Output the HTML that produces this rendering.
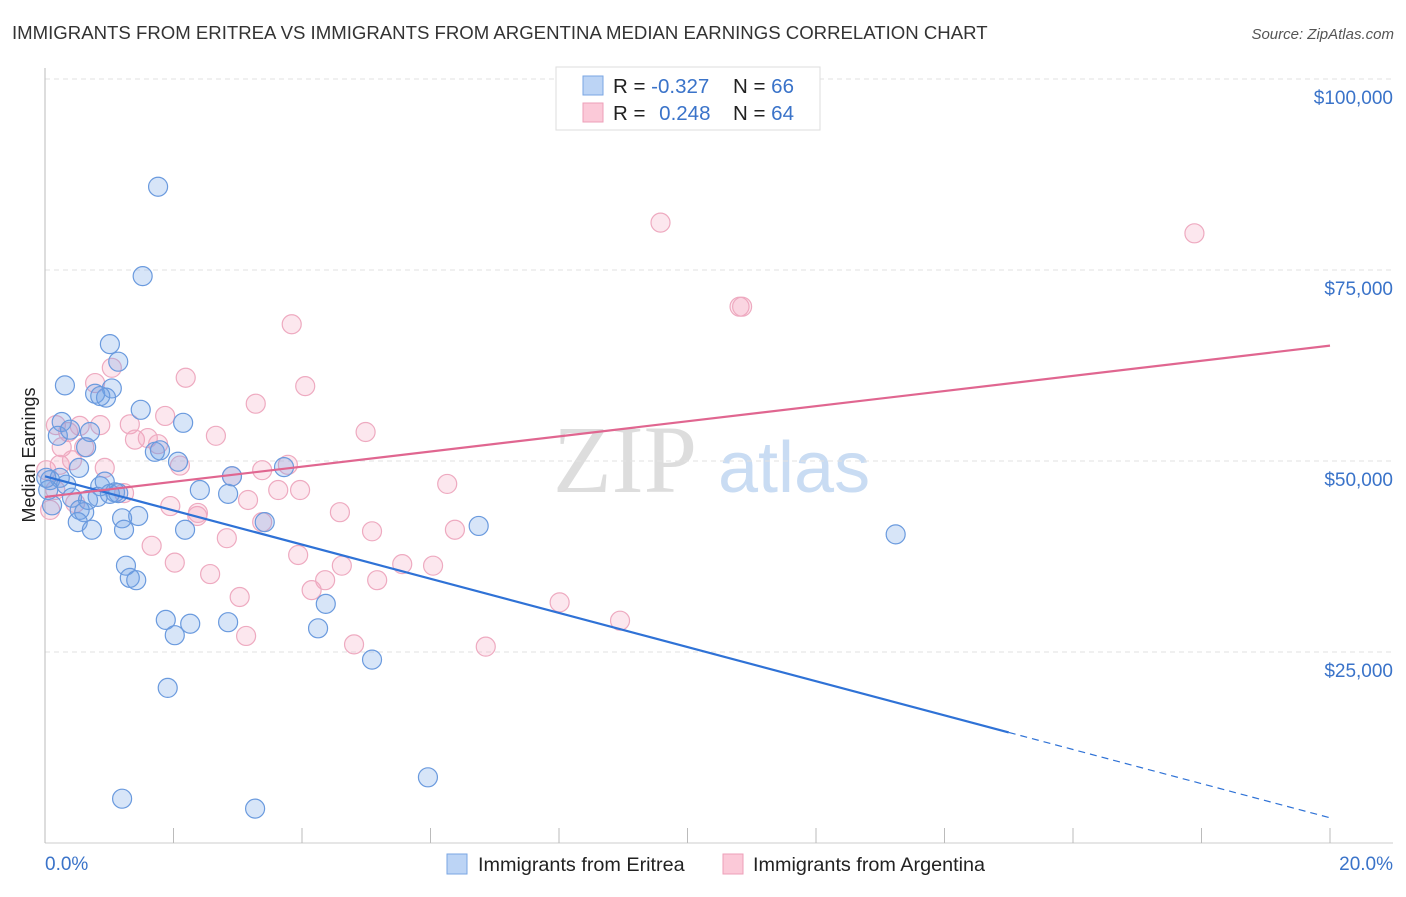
<!DOCTYPE html>
<html><head><meta charset="utf-8">
<style>
body{margin:0;background:#fff;font-family:"Liberation Sans",sans-serif;}
</style></head>
<body>
<svg id="chart" width="1406" height="892" xmlns="http://www.w3.org/2000/svg" font-family="Liberation Sans, sans-serif">
<text x="12" y="39" font-size="18.6" fill="#333">IMMIGRANTS FROM ERITREA VS IMMIGRANTS FROM ARGENTINA MEDIAN EARNINGS CORRELATION CHART</text>
<text x="1394" y="39" font-size="15" fill="#555" font-style="italic" text-anchor="end">Source: ZipAtlas.com</text>
<g>
<text x="553" y="492" font-size="96" fill="#ddd" style="font-family:'Liberation Serif',serif">ZIP</text>
<text x="718" y="492" font-size="72" fill="#c9dcf3">atlas</text>
</g>
<g id="grid"></g>
<g id="axes"></g>
<g id="marks"></g>
<g id="lines"></g>
<text transform="translate(35,455) rotate(-90)" font-size="18" fill="#222" text-anchor="middle">Median Earnings</text>
<g>
<rect x="556" y="67" width="264" height="63" fill="#fff" stroke="#ddd"/>
<rect x="583" y="76" width="20" height="19" fill="#bcd4f5" stroke="#7aa6e3"/>
<rect x="583" y="103" width="20" height="19" fill="#fbc9d8" stroke="#ee9fb8"/>
<text x="613" y="93" font-size="20.5" fill="#222">R = <tspan fill="#3a73c9">-0.327</tspan></text>
<text x="733" y="93" font-size="20.5" fill="#222">N = <tspan fill="#3a73c9">66</tspan></text>
<text x="613" y="120" font-size="20.5" fill="#222">R = <tspan fill="#3a73c9" dx="8">0.248</tspan></text>
<text x="733" y="120" font-size="20.5" fill="#222">N = <tspan fill="#3a73c9">64</tspan></text>
</g>
<g>
<rect x="447" y="854" width="20" height="20" fill="#bcd4f5" stroke="#7aa6e3"/>
<text x="478" y="871" font-size="19.8" fill="#222">Immigrants from Eritrea</text>
<rect x="723" y="854" width="20" height="20" fill="#fbc9d8" stroke="#ee9fb8"/>
<text x="753" y="871" font-size="19.8" fill="#222">Immigrants from Argentina</text>
</g>
</svg>
<script>
const yTicks=[25000,50000,75000,100000];
const yTickLabels=["$25,000","$50,000","$75,000","$100,000"];
const xTickLabels=["0.0%","20.0%"];
const blueX=[1.76,1.52,1.01,1.14,0.31,1.04,0.78,0.95,0.86,1.49,0.26,2.15,0.20,0.39,0.70,0.64,1.71,1.79,2.07,0.53,0.08,0.23,0.33,0.86,0.93,2.41,1.09,2.85,0.42,0.67,0.54,0.61,1.45,0.51,0.73,1.20,1.23,2.18,3.42,2.91,3.72,6.75,13.24,1.26,1.32,1.42,1.88,2.26,2.85,2.02,4.37,4.25,5.09,1.91,5.96,1.20,3.27,0.05,0.11,1.01,0.82,0.02,1.14];
const blueY=[85.9,74.2,65.3,63.0,59.9,59.5,58.8,58.3,58.5,56.7,55.1,55.0,53.3,54.1,53.8,51.8,51.2,51.4,49.9,49.1,47.5,47.8,46.9,46.7,47.3,46.2,45.9,45.7,45.2,44.9,43.6,43.3,42.8,42.0,41.0,42.5,41.0,41.0,42.0,48.0,49.2,41.5,40.4,36.3,34.7,34.4,29.2,28.7,28.9,27.2,31.3,28.1,24.0,20.3,8.6,5.8,4.5,46.2,44.2,45.7,45.3,47.8,45.8];
const pinkX=[8.17,9.58,17.89,10.81,10.85,3.84,4.05,2.19,0.78,1.04,3.28,1.87,1.32,4.99,2.66,0.36,0.54,0.86,0.26,0.61,1.40,1.60,1.76,2.10,0.93,3.78,2.91,3.38,6.26,3.63,3.97,1.23,3.16,1.95,2.37,4.59,2.38,3.38,5.09,6.38,2.83,1.66,3.94,2.02,4.62,4.36,5.17,5.56,6.04,2.57,4.15,3.03,8.01,8.95,3.13,4.81,6.86,0.16,0.08,0.02,0.23,0.42,0.17,0.47];
const pinkY=[94.9,81.2,79.8,70.2,70.2,67.9,59.8,60.9,60.2,62.2,57.5,55.9,54.8,53.8,53.3,53.8,54.6,54.7,51.8,51.8,52.8,53.0,52.2,49.4,49.1,49.5,48.0,48.8,47.0,46.2,46.2,45.8,44.9,44.1,42.8,43.3,43.2,42.0,40.8,41.0,39.9,38.9,37.7,36.7,36.3,34.4,34.4,36.5,36.3,35.2,33.1,32.2,31.5,29.1,27.1,26.0,25.7,46.2,43.6,48.8,49.5,50.1,54.7,44.5];
const blueTrend=[48000,3300];
const blueSolidEnd=15.0;
const pinkTrend=[45300,65100];

(function(){
const NS="http://www.w3.org/2000/svg";
const X0=45,X1=1330,Y0=843,PXK=191/25000;
const xs=v=>X0+(v/20)*(X1-X0);
const ys=v=>Y0-v*PXK;
function mk(tag,attrs,parent){const e=document.createElementNS(NS,tag);for(const k in attrs)e.setAttribute(k,attrs[k]);parent.appendChild(e);return e;}
const grid=document.getElementById('grid'),axes=document.getElementById('axes'),marks=document.getElementById('marks'),lines=document.getElementById('lines');
yTicks.forEach((t,i)=>{
 const l=mk('line',{x1:X0,x2:1393,y1:ys(t),y2:ys(t),stroke:'#e2e2e2','stroke-dasharray':'5,4'},grid);
 
 
 const tx=mk('text',{x:1393,y:ys(t)+25,'font-size':19,fill:'#3a73c9','text-anchor':'end'},axes);
 tx.textContent=yTickLabels[i];
 
 
});
const topLine=mk('line',{x1:X0,x2:1393,y1:79,y2:79,stroke:'#e2e2e2','stroke-dasharray':'5,4'},grid);


const ya=mk('line',{x1:X0,x2:X0,y1:68,y2:Y0,stroke:'#bbb'},axes);


const xa=mk('line',{x1:X0,x2:1393,y1:Y0,y2:Y0,stroke:'#ccc'},axes);


for(let i=0;i<=10;i++){
 const t=mk('line',{x1:xs(i*2),x2:xs(i*2),y1:828,y2:Y0,stroke:'#bbb'},axes);
 
 
}
const xl0=mk('text',{x:45,y:870,'font-size':19,fill:'#3a73c9'},axes);xl0.textContent=xTickLabels[0];


const xl1=mk('text',{x:1393,y:870,'font-size':19,fill:'#3a73c9','text-anchor':'end'},axes);xl1.textContent=xTickLabels[1];


pinkX.forEach((x,i)=>{
 const c=mk('circle',{cx:xs(x),cy:ys(pinkY[i]*1000),r:9.5,fill:'rgba(244,160,188,0.25)',stroke:'#eeaac0','stroke-width':1.2},marks);
 
 
});
blueX.forEach((x,i)=>{
 const c=mk('circle',{cx:xs(x),cy:ys(blueY[i]*1000),r:9.5,fill:'rgba(110,160,230,0.28)',stroke:'#6a9ade','stroke-width':1.2},marks);
 
 
});
const bAt=x=>blueTrend[0]+(blueTrend[1]-blueTrend[0])*x/20;
const b1=mk('line',{x1:xs(0),y1:ys(bAt(0)),x2:xs(blueSolidEnd),y2:ys(bAt(blueSolidEnd)),stroke:'#2f72d6','stroke-width':2.2},lines);


const b2=mk('line',{x1:xs(blueSolidEnd),y1:ys(bAt(blueSolidEnd)),x2:xs(20),y2:ys(bAt(20)),stroke:'#2f72d6','stroke-width':1.2,'stroke-dasharray':'7,5'},lines);


const p1=mk('line',{x1:xs(0),y1:ys(pinkTrend[0]),x2:xs(20),y2:ys(pinkTrend[1]),stroke:'#e06690','stroke-width':2.2},lines);


})();
</script>
</body></html>
